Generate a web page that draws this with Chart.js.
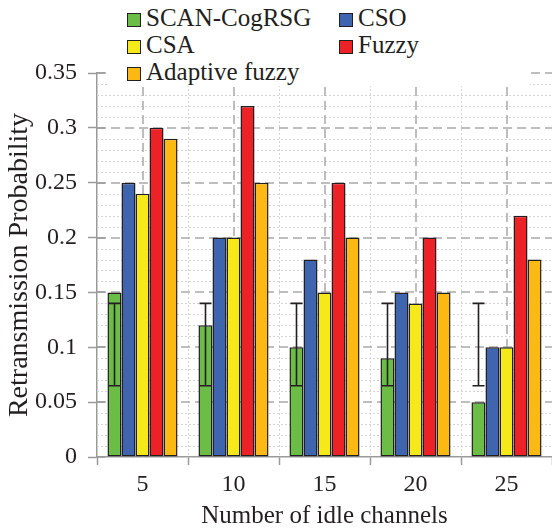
<!DOCTYPE html>
<html lang="en">
<head>
    <meta charset="UTF-8">
    <title>Retransmission Probability</title>
    <style>
        body {
            margin: 0;
            padding: 0;
            background: #ffffff;
            font-family: 'Liberation Serif', 'Times New Roman', serif;
        }

        .wrap {
            position: relative;
            width: 552px;
            height: 530px;
        }

        #legend {
            position: absolute;
            left: 107px;
            top: 0;
            width: 423px;
            height: 86px;
            background: #ffffff;
        }

        .swatch {
            position: absolute;
            width: 14px;
            height: 14px;
            box-sizing: border-box;
            border: 1.5px solid #231f20;
        }

        .lbl {
            position: absolute;
            font-size: 25px;
            line-height: 25px;
            color: #231f20;
            white-space: nowrap;
        }
    </style>
    <script src="https://cdn.jsdelivr.net/npm/chart.js"></script>
</head>
<body>

<div class="wrap">
    <canvas id="retxChart" width="552" height="530"></canvas>
    <div id="legend"></div>
</div>

<script>
    // values
    const categories = ['5', '10', '15', '20', '25'];
    const seriesNames = ['SCAN-CogRSG', 'CSO', 'CSA', 'Fuzzy', 'Adaptive fuzzy'];
    const scanCogRSG = [0.15, 0.12, 0.10, 0.09, 0.05];
    const cso = [0.25, 0.20, 0.18, 0.15, 0.10];
    const csa = [0.24, 0.20, 0.15, 0.14, 0.10];
    const fuzzy = [0.30, 0.32, 0.25, 0.20, 0.22];
    const adaptiveFuzzy = [0.29, 0.25, 0.20, 0.15, 0.18];
    // error bar range on SCAN-CogRSG
    const errLow = [0.065, 0.065, 0.065, 0.065, 0.065];
    const errHigh = [0.14, 0.14, 0.14, 0.14, 0.14];
    const yTickLabels = ['0', '0.05', '0.1', '0.15', '0.2', '0.25', '0.3', '0.35'];

    const colors = ['#6bbd46', '#3e65ae', '#f6e91a', '#ec2227', '#fdb913'];
    const ink = '#231f20';
    const serif = "'Liberation Serif', 'Times New Roman', serif";

    // legend in two columns, like the figure
    const legendSpots = [[20, 13], [232, 13], [20, 40], [232, 40], [20, 67]];
    const legendDiv = document.getElementById('legend');
    seriesNames.forEach((name, i) => {
        const [lx, ly] = legendSpots[i];
        const sw = document.createElement('span');
        sw.className = 'swatch';
        sw.style.left = lx + 'px';
        sw.style.top = ly + 'px';
        sw.style.background = colors[i];
        legendDiv.appendChild(sw);

        const tx = document.createElement('span');
        tx.className = 'lbl';
        tx.style.left = (lx + 19) + 'px';
        tx.style.top = (ly - 8) + 'px';
        tx.textContent = name;
        legendDiv.appendChild(tx);
    });

    // dashed / dotted grid behind the bars
    const gridPlugin = {
        id: 'gridLines',
        beforeDatasetsDraw(chart) {
            const { ctx, chartArea, scales } = chart;
            const y = scales.y;
            const x = scales.x;
            ctx.save();

            // minor horizontal (0.01)
            ctx.strokeStyle = '#d4d4d4';
            ctx.lineWidth = 1;
            ctx.setLineDash([2, 2]);
            for (let k = 1; k < 35; k++) {
                if (k % 5 === 0) continue;
                const py = Math.round(y.getPixelForValue(k / 100)) + 0.5;
                ctx.beginPath();
                ctx.moveTo(chartArea.left, py);
                ctx.lineTo(chartArea.right, py);
                ctx.stroke();
            }

            // minor vertical at category edges
            const half = (x.getPixelForValue(1) - x.getPixelForValue(0)) / 2;
            for (let i = 1; i < categories.length; i++) {
                const px = Math.round(x.getPixelForValue(i) - half) + 0.5;
                ctx.beginPath();
                ctx.moveTo(px, chartArea.top);
                ctx.lineTo(px, chartArea.bottom);
                ctx.stroke();
            }

            // major horizontal (0.05)
            ctx.strokeStyle = '#a9a9a9';
            ctx.lineWidth = 1.5;
            ctx.setLineDash([9, 5]);
            for (let k = 1; k <= 7; k++) {
                const py = Math.round(y.getPixelForValue(k * 0.05));
                ctx.beginPath();
                ctx.moveTo(chartArea.left, py);
                ctx.lineTo(chartArea.right, py);
                ctx.stroke();
            }

            // major vertical at category centres
            for (let i = 0; i < categories.length; i++) {
                const px = Math.round(x.getPixelForValue(i));
                ctx.beginPath();
                ctx.moveTo(px, chartArea.top);
                ctx.lineTo(px, chartArea.bottom);
                ctx.stroke();
            }

            // small inner ticks on the y axis
            ctx.setLineDash([]);
            ctx.strokeStyle = '#9a9a9a';
            ctx.lineWidth = 1.5;
            for (let k = 0; k <= 7; k++) {
                const py = Math.round(y.getPixelForValue(k * 0.05));
                ctx.beginPath();
                ctx.moveTo(chartArea.left, py);
                ctx.lineTo(chartArea.left + 8, py);
                ctx.stroke();
            }
            ctx.restore();
        }
    };

    // error bars on the first series
    const errorPlugin = {
        id: 'errorBars',
        afterDatasetsDraw(chart) {
            const { ctx, scales } = chart;
            const meta = chart.getDatasetMeta(0);
            ctx.save();
            ctx.strokeStyle = ink;
            ctx.lineWidth = 1.6;
            meta.data.forEach((bar, i) => {
                const bx = Math.round(bar.x) + 0.5;
                const top = scales.y.getPixelForValue(errHigh[i]);
                const bot = scales.y.getPixelForValue(errLow[i]);
                ctx.beginPath();
                ctx.moveTo(bx, top);
                ctx.lineTo(bx, bot);
                ctx.moveTo(bx - 6, top);
                ctx.lineTo(bx + 6, top);
                ctx.moveTo(bx - 6, bot);
                ctx.lineTo(bx + 6, bot);
                ctx.stroke();
            });
            ctx.restore();
        }
    };

    const seriesData = [scanCogRSG, cso, csa, fuzzy, adaptiveFuzzy];

    const chart = new Chart(document.getElementById('retxChart').getContext('2d'), {
        type: 'bar',
        data: {
            labels: categories,
            datasets: seriesNames.map((name, i) => ({
                label: name,
                data: seriesData[i],
                backgroundColor: colors[i],
                borderColor: ink,
                borderWidth: 1.5,
                borderSkipped: false,
                categoryPercentage: 0.77,
                barPercentage: 1.0
            }))
        },
        options: {
            responsive: false,
            animation: false,
            layout: {
                padding: { top: 73, right: 0, left: 0, bottom: 0 }
            },
            plugins: {
                legend: { display: false },
                tooltip: { enabled: false }
            },
            scales: {
                x: {
                    offset: true,
                    grid: {
                        offset: true,
                        drawOnChartArea: false,
                        tickLength: 8,
                        tickColor: '#9a9a9a',
                        tickWidth: 1.5
                    },
                    border: { color: '#9a9a9a', width: 1.5 },
                    ticks: {
                        color: ink,
                        padding: 5,
                        font: { family: serif, size: 24 }
                    },
                    title: {
                        display: true,
                        text: 'Number of idle channels',
                        color: ink,
                        padding: { top: 0, bottom: 0 },
                        font: { family: serif, size: 25, lineHeight: 1.1 }
                    },
                    afterFit(scale) { scale.height = 73; }
                },
                y: {
                    min: 0,
                    max: 0.35,
                    grid: {
                        drawOnChartArea: false,
                        tickLength: 9,
                        tickColor: '#9a9a9a',
                        tickWidth: 1.5
                    },
                    border: { color: '#9a9a9a', width: 1.5 },
                    ticks: {
                        stepSize: 0.05,
                        color: ink,
                        padding: 11,
                        font: { family: serif, size: 24 },
                        callback: (v, idx) => yTickLabels[idx]
                    },
                    title: {
                        display: true,
                        text: 'Retransmission Probability',
                        color: ink,
                        padding: { top: 4, bottom: 0 },
                        font: { family: serif, size: 28, lineHeight: 1.1 }
                    },
                    afterFit(scale) { scale.width = 97; }
                }
            }
        },
        plugins: [gridPlugin, errorPlugin]
    });
</script>

</body>
</html>
